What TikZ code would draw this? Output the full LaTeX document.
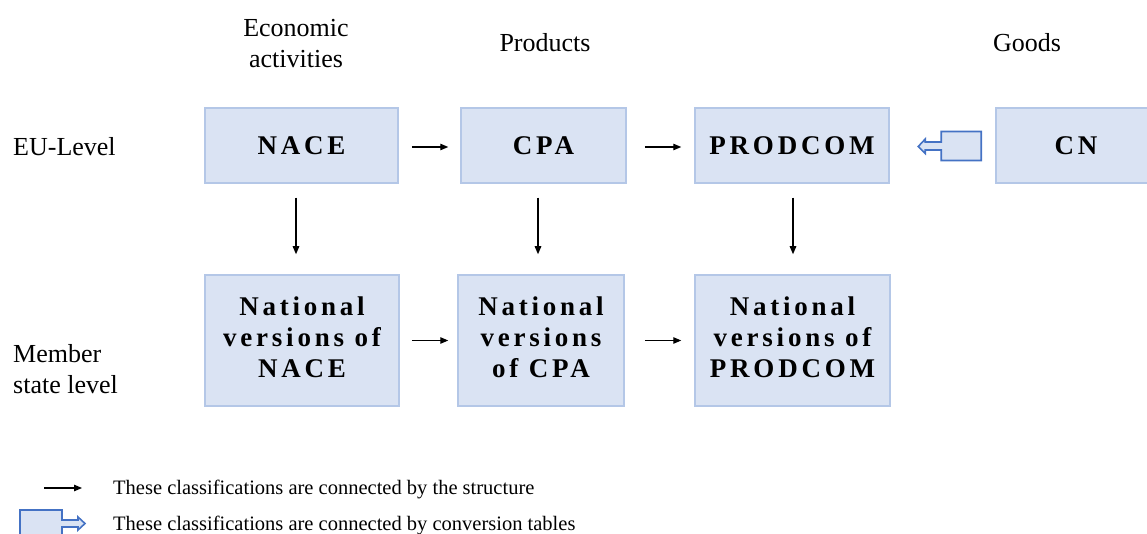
\documentclass[tikz,border=0pt]{standalone}
\usepackage{fontspec}
\setmainfont{Liberation Serif}
\newfontfamily\boxfont[LetterSpace=14]{Liberation Serif}
\usetikzlibrary{arrows.meta,calc}
\definecolor{boxfill}{HTML}{DAE3F3}
\definecolor{boxline}{HTML}{B4C7E7}
\definecolor{blockline}{HTML}{4472C4}
\tikzset{
  classbox/.style={fill=boxfill, draw=boxline, line width=1.5pt, align=center, inner sep=0pt,
    font=\boxfont\bfseries\fontsize{27}{31}\selectfont},
  toplabel/.style={align=center, inner sep=0pt, font=\fontsize{26}{31}\selectfont},
  legendtext/.style={anchor=west, inner sep=0pt, font=\fontsize{20.5}{24}\selectfont},
  arr/.style={line width=1.2pt, -{Triangle[length=8pt,width=6.5pt]}},
  blockarrow/.style={fill=boxfill, draw=blockline, line width=1.6pt, line join=miter}
}
\begin{document}
\begin{tikzpicture}[x=1pt,y=-1pt]
\useasboundingbox (0,0) rectangle (1147,534);
\clip (0,0) rectangle (1147,534);
% top labels
\node[toplabel] (econ) at (296,44) {Economic\\activities};
\node[toplabel] (prod) at (545,43) {Products};
\node[toplabel] (goods) at (1027,43) {Goods};
\node[toplabel, anchor=west] (eu) at (13,147) {EU-Level};
\node[toplabel, anchor=west, align=left] (ms) at (13,369) {Member\\state level};
% EU level boxes
\node[classbox, minimum width=193pt, minimum height=75pt, text depth=-1pt] (nace) at (301.5,145.5) {NACE};
\node[classbox, minimum width=165pt, minimum height=75pt, text depth=-1pt] (cpa) at (543.5,145.5) {CPA};
\node[classbox, minimum width=194pt, minimum height=75pt, text depth=-1pt] (prodcom) at (792,145.5) {PRODCOM};
\node[classbox, minimum width=160pt, minimum height=75pt, text depth=-1pt] (cn) at (1076,145.5) {CN};
% national boxes
\node[classbox, minimum width=194pt, minimum height=131pt] (nnace) at (302,340.5) {\raisebox{-2pt}{\begin{tabular}{@{}c@{}}National\\versions of\\NACE\end{tabular}}};
\node[classbox, minimum width=166pt, minimum height=131pt] (ncpa) at (541,340.5) {\raisebox{-2pt}{\begin{tabular}{@{}c@{}}National\\versions\\of CPA\end{tabular}}};
\node[classbox, minimum width=195pt, minimum height=131pt] (nprod) at (792.5,340.5) {\raisebox{-2pt}{\begin{tabular}{@{}c@{}}National\\versions of\\PRODCOM\end{tabular}}};
% horizontal arrows
\draw[arr, shorten <=13pt, shorten >=12pt] ([yshift=-1.5pt]nace.east) -- ([yshift=-1.5pt]nace.east -| cpa.west);
\draw[arr, shorten <=18pt, shorten >=13pt] ([yshift=-1.5pt]cpa.east) -- ([yshift=-1.5pt]cpa.east -| prodcom.west);
\draw[arr, shorten <=12pt, shorten >=9pt] (nnace.east) -- (nnace.east -| ncpa.west);
\draw[arr, shorten <=20pt, shorten >=13pt] (ncpa.east) -- (ncpa.east -| nprod.west);
% vertical arrows
\draw[arr, shorten <=14pt, shorten >=20pt] ([xshift=-5.5pt]nace.south) -- ([xshift=-5.5pt]nace.south |- nnace.north);
\draw[arr, shorten <=14pt, shorten >=20pt] ([xshift=-5.5pt]cpa.south) -- ([xshift=-5.5pt]cpa.south |- ncpa.north);
\draw[arr, shorten <=14pt, shorten >=20pt] ([xshift=1pt]prodcom.south) -- ([xshift=1pt]prodcom.south |- nprod.north);
% block arrow CN -> PRODCOM (conversion tables)
\coordinate (cnb) at ([xshift=-14pt]cn.west);
\draw[blockarrow] (cnb) ++(0,-14) -- ++(-40,0) -- ++(0,10.5) -- ++(-16,0) -- ++(0,-3) -- ++(-7,7.5) -- ++(7,7) -- ++(0,-3.5) -- ++(16,0) -- ++(0,10.5) -- ++(40,0) -- cycle;
% legend
\coordinate (la1) at (44,488);
\coordinate (la2) at (82,488);
\draw[arr] (la1) -- (la2);
\node[legendtext] (lt1) at (113,489) {These classifications are connected by the structure};
\coordinate (lb) at (20,510);
\draw[blockarrow] (lb) -- ++(42,0) -- ++(0,10) -- ++(16,0) -- ++(0,-3) -- ++(7,6.5) -- ++(-7,6.5) -- ++(0,-3) -- ++(-16,0) -- ++(0,20) -- ++(-42,0) -- cycle;
\node[legendtext] (lt2) at (113,525) {These classifications are connected by conversion tables};
\end{tikzpicture}
\end{document}
